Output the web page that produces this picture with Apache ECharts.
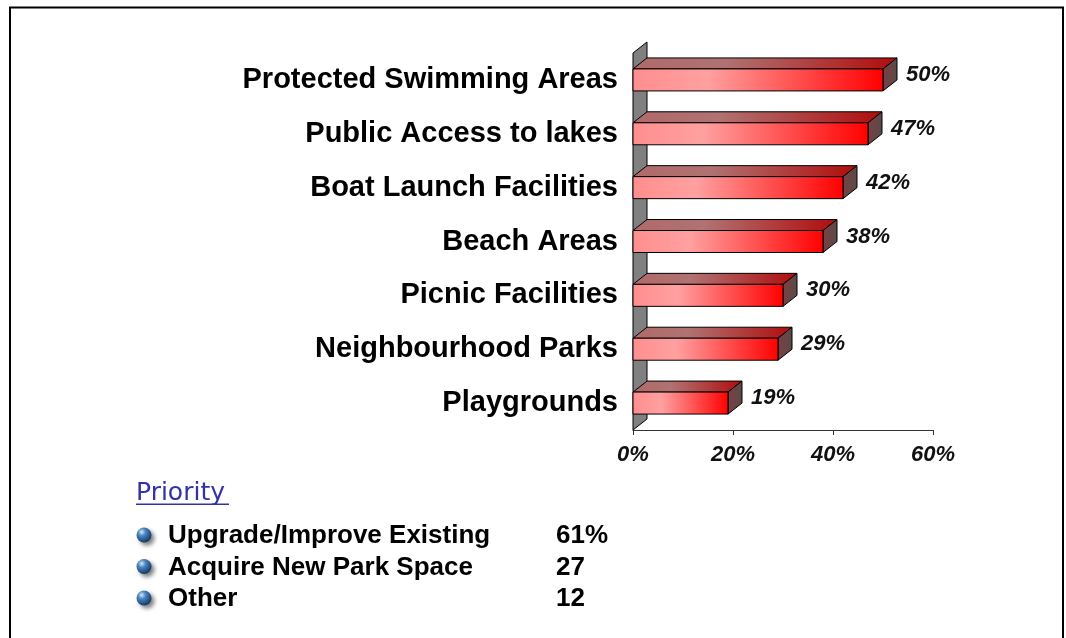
<!DOCTYPE html>
<html>
<head>
<meta charset="utf-8">
<script src="https://cdn.jsdelivr.net/npm/echarts@6/dist/echarts.min.js"></script>
<style>
  html, body { margin: 0; padding: 0; background: #ffffff; }
  #chart { width: 1066px; height: 638px; }
</style>
</head>
<body>
<div id="chart"></div>
<script>
// Park facility support, percent of respondents
const categories = [
  'Protected Swimming Areas',
  'Public Access to lakes',
  'Boat Launch Facilities',
  'Beach Areas',
  'Picnic Facilities',
  'Neighbourhood Parks',
  'Playgrounds'
];
const values = [50, 47, 42, 38, 30, 29, 19];

// Priority breakdown
const priorityItems = ['Upgrade/Improve Existing', 'Acquire New Park Space', 'Other'];
const priorityValues = ['61%', '27', '12'];

const DX = 14;   // depth offset of the 3D boxes
const DY = -11;
const BAR_H = 22;

const chart = echarts.init(document.getElementById('chart'));

function boxItem(params, api) {
  const v = api.value(0);
  const c = api.value(1);
  const p0 = api.coord([0, c]);
  const p1 = api.coord([v, c]);
  const x0 = p0[0], x1 = p1[0];
  const yT = p0[1] - BAR_H / 2, yB = p0[1] + BAR_H / 2;
  return {
    type: 'group',
    children: [
      { // top face
        type: 'polygon',
        shape: { points: [[x0, yT], [x0 + DX, yT + DY], [x1 + DX, yT + DY], [x1, yT]] },
        style: {
          fill: { type: 'linear', x: 0, y: 0, x2: 1, y2: 0, colorStops: [
            { offset: 0, color: '#b06a6a' }, { offset: 0.35, color: '#b07272' },
            { offset: 1, color: '#b00c0c' } ] },
          stroke: '#000', lineWidth: 1
        }
      },
      { // right face
        type: 'polygon',
        shape: { points: [[x1, yT], [x1 + DX, yT + DY], [x1 + DX, yB + DY], [x1, yB]] },
        style: {
          fill: { type: 'linear', x: 0, y: 0, x2: 1, y2: 0, colorStops: [
            { offset: 0, color: '#7a4040' }, { offset: 1, color: '#5a4a4a' } ] },
          stroke: '#000', lineWidth: 1
        }
      },
      { // front face
        type: 'rect',
        shape: { x: x0, y: yT, width: x1 - x0, height: BAR_H },
        style: {
          fill: { type: 'linear', x: 0, y: 0, x2: 1, y2: 0, colorStops: [
            { offset: 0, color: '#ff8e8e' }, { offset: 0.3, color: '#ffa0a0' },
            { offset: 1, color: '#ff0000' } ] },
          stroke: '#000', lineWidth: 1
        }
      },
      { // value label
        type: 'text',
        style: {
          text: v + '%',
          x: x1 + 23, y: p0[1] - 5,
          align: 'left', verticalAlign: 'middle',
          font: 'italic bold 22px "Liberation Sans", Arial, sans-serif',
          fill: '#111'
        }
      }
    ]
  };
}

function wallItem(params, api) {
  const n = categories.length;
  const top = api.coord([0, 0]);
  const bot = api.coord([0, n - 1]);
  const band = api.size([0, 1])[1];
  const x = top[0];
  const yTop = top[1] - band / 2;
  const yBot = bot[1] + band / 2;
  return {
    type: 'polygon',
    shape: { points: [[x, yTop], [x + DX, yTop + DY], [x + DX, yBot + DY], [x, yBot]] },
    style: { fill: '#808080', stroke: '#000', lineWidth: 1 }
  };
}

const legendGraphics = [];
legendGraphics.push({
  type: 'text',
  style: {
    text: 'Priority', x: 136, y: 493, verticalAlign: 'middle',
    font: '25px "DejaVu Sans", Verdana, sans-serif', fill: '#3232a8'
  }
});
legendGraphics.push({
  type: 'rect', shape: { x: 136, y: 503.5, width: 93, height: 1.5 },
  style: { fill: '#3232a8' }
});
priorityItems.forEach(function (name, i) {
  const y = 536 + i * 31.5;
  legendGraphics.push({
    type: 'circle', shape: { cx: 144, cy: y - 1, r: 7.5 },
    style: {
      fill: { type: 'radial', x: 0.35, y: 0.3, r: 0.75, colorStops: [
        { offset: 0, color: '#d6e6f6' }, { offset: 0.35, color: '#4a86c0' },
        { offset: 1, color: '#0f3360' } ] },
      shadowBlur: 4, shadowOffsetX: 3, shadowOffsetY: 3, shadowColor: 'rgba(0,0,0,0.5)'
    }
  });
  legendGraphics.push({
    type: 'text',
    style: {
      text: name, x: 168, y: y, verticalAlign: 'middle',
      font: 'bold 26px "Liberation Sans", Arial, sans-serif', fill: '#000'
    }
  });
  legendGraphics.push({
    type: 'text',
    style: {
      text: priorityValues[i], x: 556, y: y, verticalAlign: 'middle',
      font: 'bold 26px "Liberation Sans", Arial, sans-serif', fill: '#000'
    }
  });
});

chart.setOption({
  animation: false,
  backgroundColor: '#ffffff',
  grid: { left: 633, right: 133, top: 53, bottom: 208, containLabel: false },
  xAxis: {
    type: 'value', min: 0, max: 60, interval: 20,
    axisLine: { show: true, lineStyle: { color: '#333', width: 1 } },
    axisTick: { show: true, length: 5, lineStyle: { color: '#333' } },
    splitLine: { show: false },
    axisLabel: {
      formatter: '{value}%', margin: 14,
      fontFamily: '"Liberation Sans", Arial, sans-serif',
      fontSize: 22, fontWeight: 'bold', fontStyle: 'italic', color: '#111'
    }
  },
  yAxis: {
    type: 'category', data: categories, inverse: true,
    axisLine: { show: false }, axisTick: { show: false },
    axisLabel: {
      margin: 15,
      fontFamily: '"Liberation Sans", Arial, sans-serif',
      fontSize: 29, fontWeight: 'bold', color: '#000'
    }
  },
  series: [
    {
      type: 'custom', renderItem: wallItem, data: [[0, 0]],
      encode: { x: 0, y: 1 }, silent: true, z: 1
    },
    {
      type: 'custom', renderItem: boxItem,
      data: values.map(function (v, i) { return [v, i]; }),
      encode: { x: 0, y: 1 }, z: 2
    }
  ],
  graphic: [
    {
      type: 'rect', shape: { x: 10, y: 7.5, width: 1053, height: 640 },
      style: { fill: 'none', stroke: '#000', lineWidth: 2 }, z: 10
    }
  ].concat(legendGraphics)
});
</script>
</body>
</html>
